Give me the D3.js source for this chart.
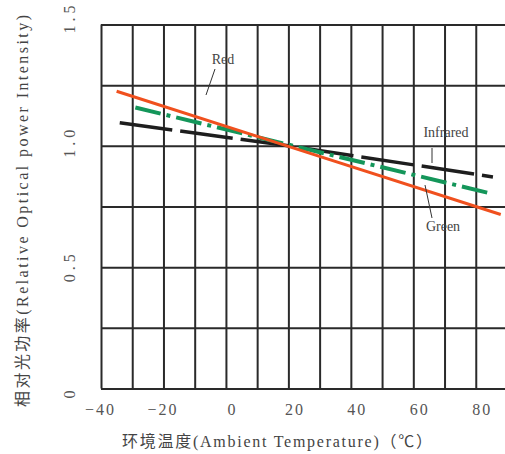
<!DOCTYPE html>
<html><head><meta charset="utf-8">
<script src="https://cdn.jsdelivr.net/npm/d3@7"></script>
<style>
html,body{margin:0;padding:0;background:#fff;overflow:hidden;}
svg{display:block;}
text{font-family:"Liberation Serif","Noto Sans CJK SC",serif;}
</style></head>
<body>
<svg id="c" width="505" height="454"></svg>
<script>
// ---- data ----
const gridTemps = [-40,-30,-20,-10,0,10,20,30,40,50,60,70,80,90];
const xTickLabels = [-40,-20,0,20,40,60,80];
const yTickLabels = [0,0.5,1.0,1.5];
const yGrid = [0,0.25,0.5,0.75,1.0,1.25,1.5];
const redT = [-35, 20, 88];
const redV = [1.225, 0.998, 0.717];
const irT = [-34, 20, 85.5];
const irV = [1.095, 1.0, 0.872];
const greenT = [-29, 20, 85];
const greenV = [1.158, 1.005, 0.803];
const labels = ["Red","Infrared","Green"];

const svg = d3.select("#c");
const L=101, R=507, T=24.5, B=388.5;
const x = d3.scaleLinear().domain([-40,90]).range([L,R]);
const y = d3.scaleLinear().domain([0,1.5]).range([B,T]);

// grid
const g = svg.append("g");
g.append("g").attr("transform",`translate(0,${B})`)
  .call(d3.axisBottom(x).tickValues(gridTemps).tickSize(-(B-T)).tickFormat(""))
  .call(s=>{s.select(".domain").remove();s.selectAll("line").attr("stroke","#2a2a2a").attr("stroke-width",2);});
g.append("g").attr("transform",`translate(${L},0)`)
  .call(d3.axisLeft(y).tickValues(yGrid).tickSize(-(R-L)).tickFormat(""))
  .call(s=>{s.select(".domain").remove();s.selectAll("line").attr("stroke","#2a2a2a").attr("stroke-width",2);});

// x tick labels
const xa = svg.append("g").attr("transform",`translate(0,${B})`)
  .call(d3.axisBottom(x).tickValues(xTickLabels).tickSize(0).tickPadding(0).tickFormat(d=>d<0?"\u2212"+Math.abs(d):String(d)));
xa.select(".domain").remove();
xa.selectAll("text").attr("y",26).attr("dy",0).attr("dx",d=>d<0?-1:6)
  .attr("font-size",16).attr("fill","#555").attr("letter-spacing",2)
  .attr("font-family","Liberation Serif, serif");

// y tick labels (rotated)
const ya = svg.append("g");
ya.selectAll("text").data(yTickLabels).join("text")
  .attr("transform",d=>`translate(75,${y(d)+(d===0?4:d===0.5?-1:d===1?-4:-7)}) rotate(-90)`)
  .attr("text-anchor","middle").attr("font-size",16).attr("fill","#555").attr("letter-spacing",4)
  .text(d=>d===0?"0":d.toFixed(1));

// lines
const line = d3.line().x(d=>x(d[0])).y(d=>y(d[1]));
const series = [
  {t:irT,v:irV,color:"#1e1e1e",w:3.5,dash:"53,8"},
  {t:greenT,v:greenV,color:"#14965a",w:4,dash:"26,6,4,6"},
  {t:redT,v:redV,color:"#f0501e",w:3,dash:null}
];
series.forEach(s=>{
  svg.append("path").datum(s.t.map((t,i)=>[t,s.v[i]]))
    .attr("d",line).attr("fill","none").attr("stroke",s.color)
    .attr("stroke-width",s.w).attr("stroke-dasharray",s.dash);
});

// annotations
const ann = [
  {text:labels[0],tx:223,ty:64,x1:215,y1:69,x2:206,y2:95},
  {text:labels[1],tx:446,ty:137,x1:432,y1:148,x2:432,y2:163},
  {text:labels[2],tx:443,ty:231,x1:425,y1:185,x2:432,y2:218}
];
ann.forEach(a=>{
  svg.append("line").attr("x1",a.x1).attr("y1",a.y1).attr("x2",a.x2).attr("y2",a.y2)
    .attr("stroke","#333").attr("stroke-width",1);
  svg.append("text").attr("x",a.tx).attr("y",a.ty).attr("text-anchor","middle")
    .attr("font-size",14).attr("fill","#444").text(a.text);
});

// axis titles
svg.append("text").attr("x",277).attr("y",447).attr("text-anchor","middle")
  .attr("font-size",16).attr("fill","#444")
  .attr("textLength",310).attr("lengthAdjust","spacing")
  .text("环境温度(Ambient Temperature)（℃）");
svg.append("text").attr("transform","translate(28,211) rotate(-90)").attr("text-anchor","middle")
  .attr("font-size",16).attr("fill","#444")
  .attr("textLength",392).attr("lengthAdjust","spacing")
  .text("相对光功率(Relative Optical power Intensity)");
</script>
</body></html>
